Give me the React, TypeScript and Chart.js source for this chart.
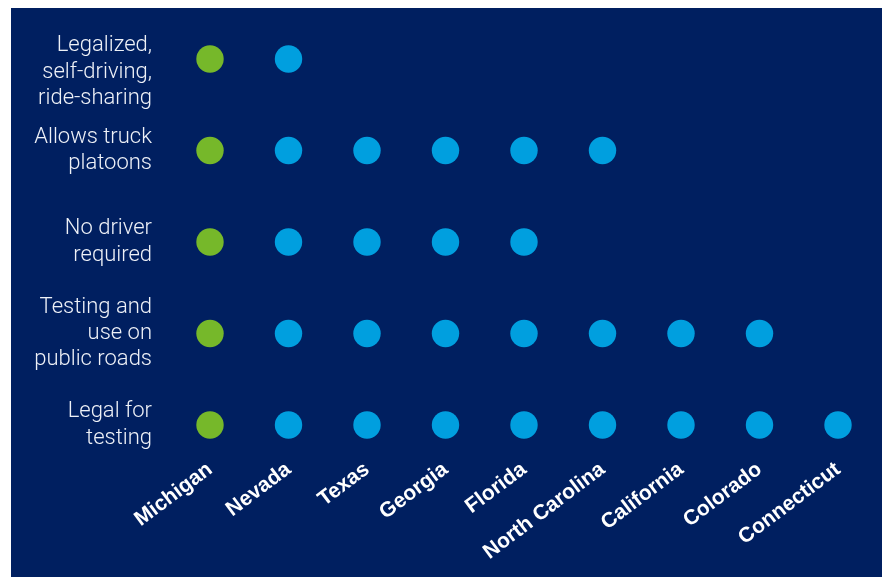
import React, { useEffect, useRef } from "react";
import { Chart, registerables } from "chart.js";

Chart.register(...registerables);

const states = [
  "Michigan",
  "Nevada",
  "Texas",
  "Georgia",
  "Florida",
  "North Carolina",
  "California",
  "Colorado",
  "Connecticut",
];

const rowKeys = ["rideSharing", "truckPlatoons", "noDriver", "publicRoads", "testing"];

const rowLabels: string[][] = [
  ["", "Legalized,", "self-driving,", "ride-sharing"],
  ["Allows truck", "platoons"],
  ["No driver", "required"],
  ["Testing and", "use on", "public roads"],
  ["Legal for", "testing"],
];

const rideSharingStates = ["Michigan", "Nevada"];
const truckPlatoonStates = ["Michigan", "Nevada", "Texas", "Georgia", "Florida", "North Carolina"];
const noDriverStates = ["Michigan", "Nevada", "Texas", "Georgia", "Florida"];
const publicRoadStates = [
  "Michigan",
  "Nevada",
  "Texas",
  "Georgia",
  "Florida",
  "North Carolina",
  "California",
  "Colorado",
];
const testingStates = [
  "Michigan",
  "Nevada",
  "Texas",
  "Georgia",
  "Florida",
  "North Carolina",
  "California",
  "Colorado",
  "Connecticut",
];

const highlightState = "Michigan";

const NAVY = "#001f60";
const GREEN = "#76b82a";
const BLUE = "#009fdf";

export default function App() {
  const ref = useRef<HTMLCanvasElement>(null);

  useEffect(() => {
    if (!ref.current) return;
    const rows = [rideSharingStates, truckPlatoonStates, noDriverStates, publicRoadStates, testingStates];
    const green: { x: string; y: string }[] = [];
    const blue: { x: string; y: string }[] = [];
    rows.forEach((list, i) => {
      list.forEach((s) => {
        const p = { x: s, y: rowKeys[i] };
        if (s === highlightState) green.push(p);
        else blue.push(p);
      });
    });

    const chart = new Chart(ref.current, {
      type: "scatter",
      data: {
        datasets: [
          {
            data: green as any,
            backgroundColor: GREEN,
            borderWidth: 0,
            pointRadius: 13.7,
            pointHoverRadius: 13.7,
            clip: false as any,
          },
          {
            data: blue as any,
            backgroundColor: BLUE,
            borderWidth: 0,
            pointRadius: 13.7,
            pointHoverRadius: 13.7,
            clip: false as any,
          },
        ],
      },
      options: {
        responsive: false,
        animation: false,
        layout: { padding: { top: 51, right: 44, left: 0, bottom: 0 } },
        plugins: {
          legend: { display: false },
          tooltip: { enabled: false },
        },
        scales: {
          x: {
            type: "category",
            labels: states,
            offset: false,
            grid: { display: false, drawTicks: false },
            border: { display: false },
            afterFit: (s: any) => {
              s.height = 152;
              s.paddingLeft = 0;
              s.paddingRight = 0;
            },
            ticks: {
              autoSkip: false,
              minRotation: 37,
              maxRotation: 37,
              padding: 32,
              color: "#ffffff",
              font: { family: "'Liberation Sans', Arial, sans-serif", size: 21, weight: "bold" },
            },
          },
          y: {
            type: "category",
            labels: rowKeys,
            offset: false,
            grid: { display: false, drawTicks: false },
            border: { display: false },
            afterFit: (s: any) => {
              s.width = 199;
              s.paddingTop = 0;
              s.paddingBottom = 0;
            },
            ticks: {
              autoSkip: false,
              padding: 58,
              color: "#eef1f7",
              font: { family: "Roboto, 'Noto Sans', sans-serif", size: 22, weight: 300, lineHeight: 1.2 },
              callback: (_v: any, i: number) => rowLabels[i],
            },
          },
        },
      },
    });
    return () => chart.destroy();
  }, []);

  return (
    <div
      style={{
        position: "absolute",
        left: 11,
        top: 8,
        width: 871,
        height: 569,
        background: NAVY,
      }}
    >
      <canvas ref={ref} width={871} height={569} style={{ display: "block" }} />
    </div>
  );
}
